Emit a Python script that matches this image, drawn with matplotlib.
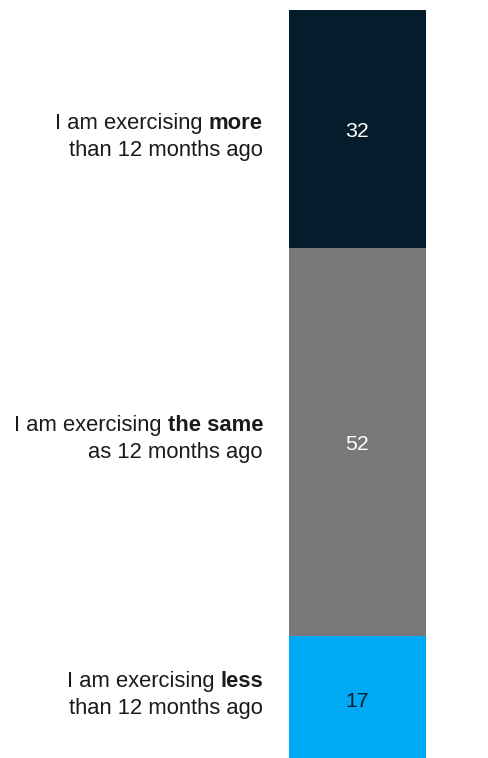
import numpy as np
import matplotlib
matplotlib.use("Agg")
import matplotlib.pyplot as plt

# Survey answers, top to bottom in the stacked bar
lead_text = ["I am exercising", "I am exercising", "I am exercising"]
bold_text = ["more", "the same", "less"]
tail_text = ["than 12 months ago", "as 12 months ago", "than 12 months ago"]
shares = [32, 52, 17]

seg_colors = ["#051c2c", "#787878", "#00a9f4"]
value_colors = ["#ffffff", "#ffffff", "#051c2c"]
text_color = "#1a1a1a"

plt.rcParams["font.family"] = ["Liberation Sans", "DejaVu Sans"]

W, H, DPI = 488, 758, 100
fig = plt.figure(figsize=(W / DPI, H / DPI), dpi=DPI)
ax = fig.add_axes([0, 0, 1, 1])
ax.axis("off")

# layout in pixels
bar_left_px, bar_right_px = 289, 426
bar_top_px = 10
px_per_unit = 7.45
bar_w_px = bar_right_px - bar_left_px

ax.set_xlim(-0.5 - bar_left_px / bar_w_px, 0.5 + (W - bar_right_px) / bar_w_px)
ax.set_ylim((H - bar_top_px) / px_per_unit, -bar_top_px / px_per_unit)

bottoms = np.concatenate([[0], np.cumsum(shares)[:-1]])
ax.bar(np.zeros(len(shares)), shares, bottom=bottoms, width=1.0,
       color=seg_colors, linewidth=0, align="center")

value_fs = 15.3
label_fs = 15.8
for v, b, c in zip(shares, bottoms, value_colors):
    ax.text(0, b + v / 2, f"{v}", ha="center", va="center_baseline",
            fontsize=value_fs, color=c)

# category labels, right-aligned left of the bar, bold keyword at line end
label_gap_px = 26
line1_up_px = [0.5, 11.5, 12]
line2_down_px = [-26.5, -15.5, -15]
for i, (v, b) in enumerate(zip(shares, bottoms)):
    yc = b + v / 2
    bold = ax.annotate(bold_text[i], xy=(-0.5, yc), xytext=(-label_gap_px, line1_up_px[i]),
                       textcoords="offset pixels", ha="right", va="baseline",
                       fontsize=label_fs, fontweight="bold", color=text_color)
    ax.annotate(lead_text[i], xy=(0, 0), xycoords=bold, xytext=(-4.4, 0),
                textcoords="offset points", ha="right", va="bottom",
                fontsize=label_fs, color=text_color)
    ax.annotate(tail_text[i], xy=(-0.5, yc), xytext=(-label_gap_px, line2_down_px[i]),
                textcoords="offset pixels", ha="right", va="baseline",
                fontsize=label_fs, color=text_color)

fig.savefig("out.png", dpi=DPI)
